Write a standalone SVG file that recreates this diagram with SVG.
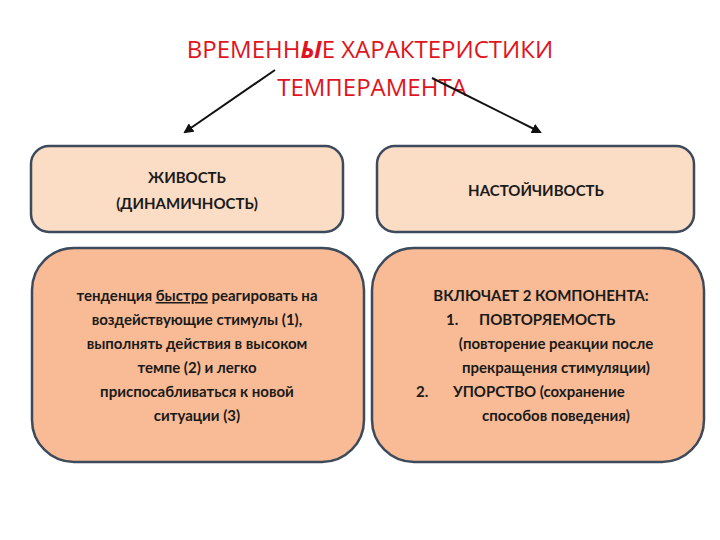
<svg xmlns="http://www.w3.org/2000/svg" width="720" height="540" viewBox="0 0 720 540">
<style>
.t{font-family:Lato,"Open Sans","Liberation Sans",sans-serif;font-weight:bold;font-size:15px;fill:#1a1a1a}
.c{text-anchor:middle}
.hd{fill:#fbdcc4;stroke:#3d4a5c;stroke-width:2.5}
.bd{fill:#f8bb95;stroke:#3d4a5c;stroke-width:2.5}
.title{font-family:"Open Sans","Liberation Sans",sans-serif;font-size:24px;fill:#e0141e;text-anchor:middle}
</style>
<defs><marker id="ah" markerWidth="10" markerHeight="10" refX="8" refY="5" orient="auto" markerUnits="userSpaceOnUse"><path d="M0,0 L10,5 L0,10 z" fill="#111"/></marker></defs>
<rect width="720" height="540" fill="#fff"/>
<g id="title">
<text class="title" x="370" y="58">ВРЕМЕНН<tspan font-weight="bold" font-style="italic">Ы</tspan>Е ХАРАКТЕРИСТИКИ</text>
<text class="title" x="372" y="96">ТЕМПЕРАМЕНТА</text>
</g>
<g id="connectors" stroke="#111" stroke-width="2">
<line x1="275" y1="70" x2="185" y2="132" marker-end="url(#ah)"/>
<line x1="432" y1="78" x2="540" y2="132" marker-end="url(#ah)"/>
</g>
<g id="zhivost">
<rect class="hd" x="31" y="146" width="312" height="86" rx="18"/>
<text class="t c" x="187" y="183">ЖИВОСТЬ</text>
<text class="t c" x="187" y="209">(ДИНАМИЧНОСТЬ)</text>
</g>
<g id="nastoychivost">
<rect class="hd" x="377" y="146" width="317" height="86" rx="18"/>
<text class="t c" x="536" y="196">НАСТОЙЧИВОСТЬ</text>
</g>
<g id="zhivost-desc">
<rect class="bd" x="32" y="248" width="332" height="214" rx="42"/>
<text class="t c" x="197" y="301">тенденция <tspan text-decoration="underline">быстро</tspan> реагировать на</text>
<text class="t c" x="197" y="325">воздействующие стимулы (1),</text>
<text class="t c" x="197" y="349">выполнять действия в высоком</text>
<text class="t c" x="197" y="373">темпе (2) и легко</text>
<text class="t c" x="197" y="397">приспосабливаться к новой</text>
<text class="t c" x="197" y="421">ситуации (3)</text>
</g>
<g id="nastoychivost-desc">
<rect class="bd" x="372" y="248" width="332" height="214" rx="42"/>
<text class="t c" x="541" y="301">ВКЛЮЧАЕТ 2 КОМПОНЕНТА:</text>
<text class="t" x="446" y="325">1.</text><text class="t" x="479" y="325">ПОВТОРЯЕМОСТЬ</text>
<text class="t c" x="556" y="349">(повторение реакции после</text>
<text class="t c" x="556" y="373">прекращения стимуляции)</text>
<text class="t" x="416" y="397">2.</text><text class="t" x="453" y="397">УПОРСТВО (сохранение</text>
<text class="t c" x="556" y="421">способов поведения)</text>
</g>
</svg>
